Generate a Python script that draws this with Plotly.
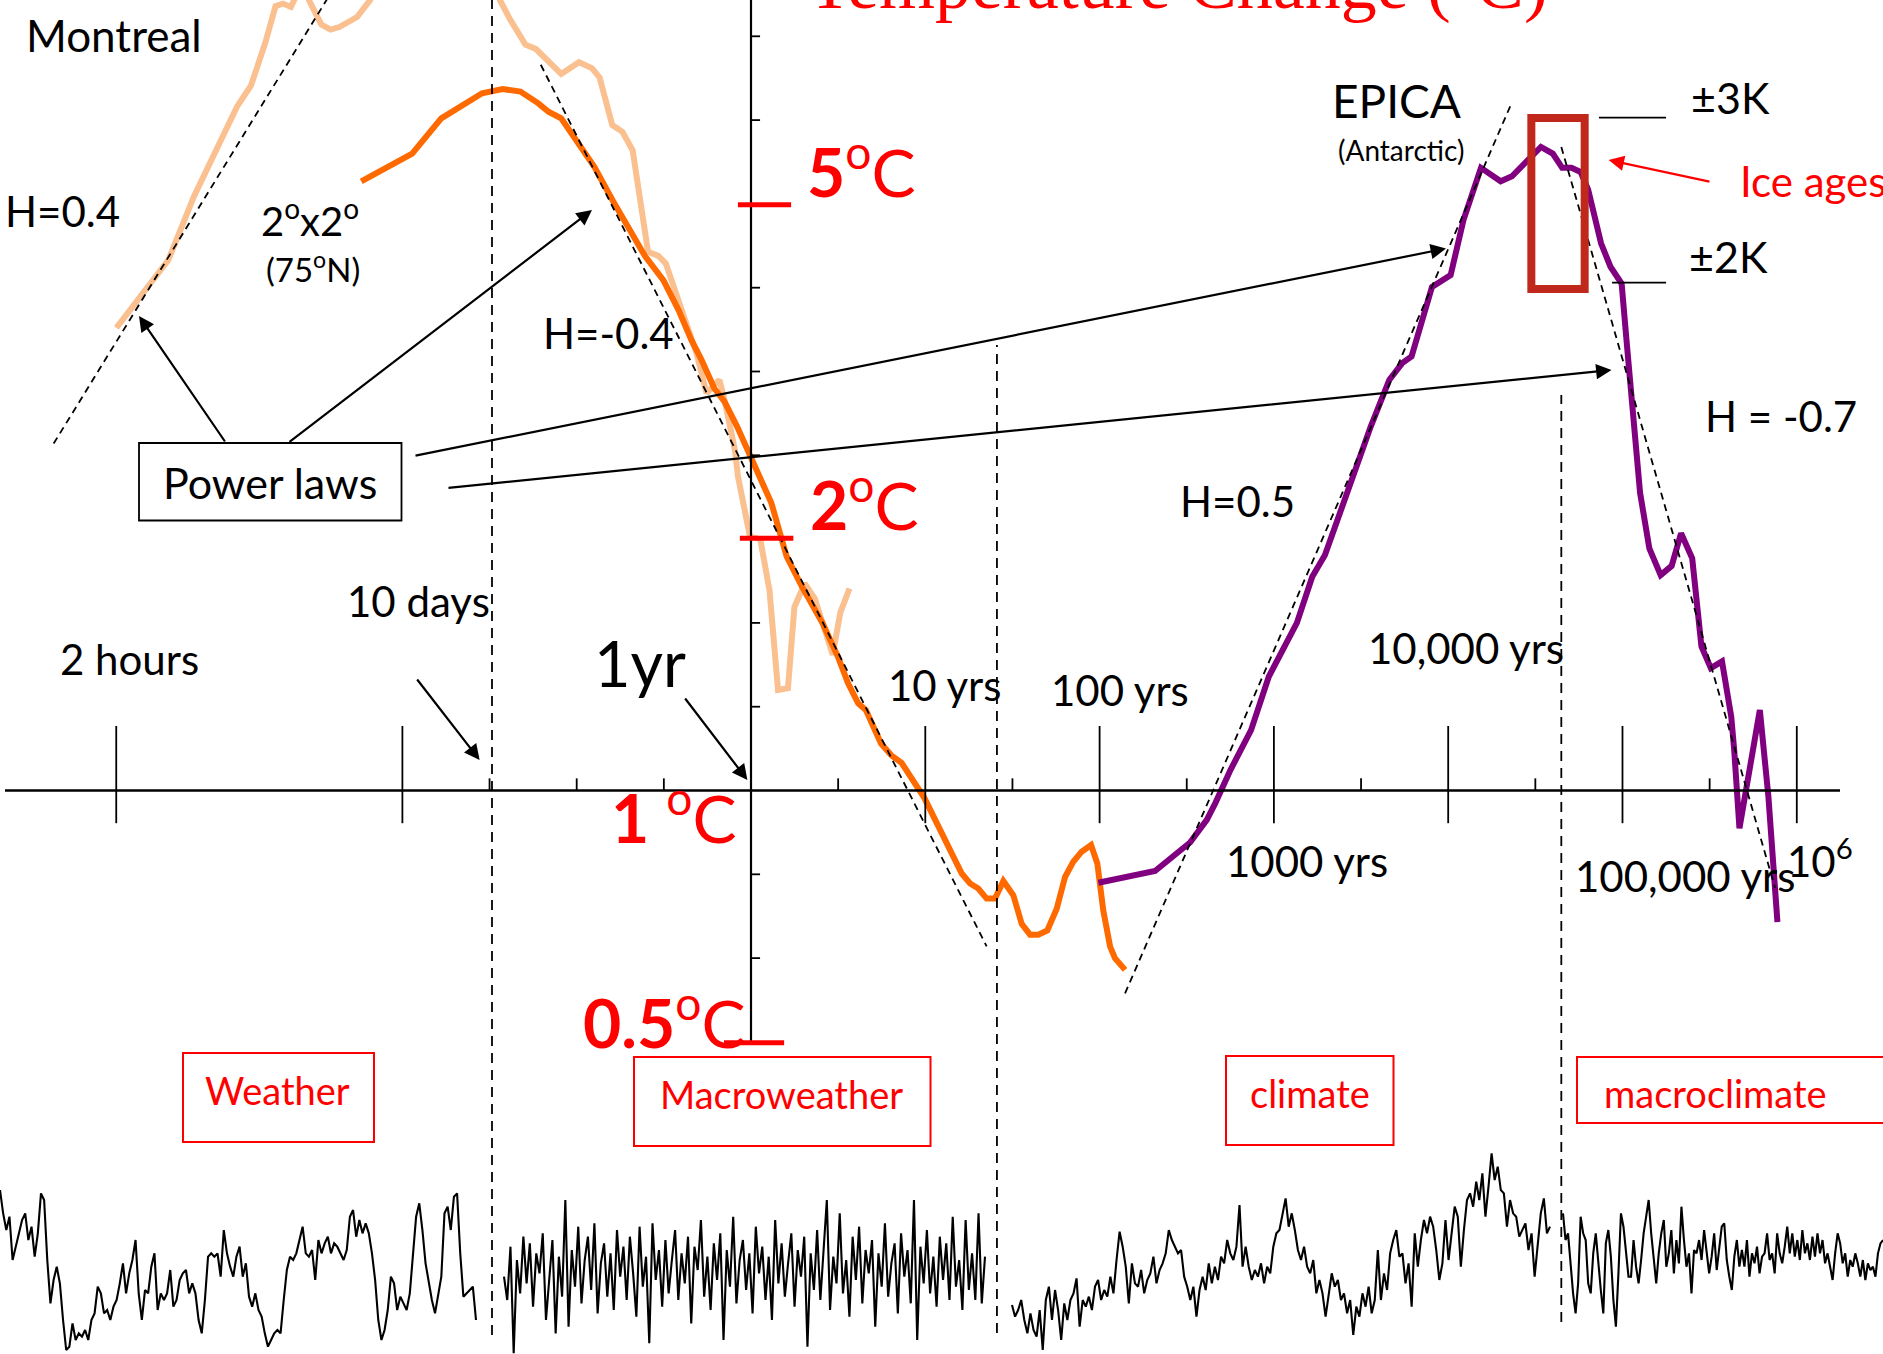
import numpy as np
import plotly.graph_objects as go

W, H = 1883, 1354

# ======================= DATA =======================
# Haar-fluctuation curves.
# log10(time scale, years) and log10(temperature fluctuation, degC)
montreal_log_dt = [-3.641, -3.343, -3.196, -3.035, -2.949, -2.869, -2.787, -2.728, -2.685, -2.640,
                   -2.588, -2.565, -2.536, -2.465, -2.412, -2.362, -2.260, -2.186, -2.129, -1.842,
                   -1.497, -1.440, -1.382, -1.294, -1.235, -1.089, -0.987, -0.913, -0.869, -0.796,
                   -0.738, -0.679, -0.591, -0.532, -0.489, -0.415, -0.313, -0.255, -0.181, -0.152,
                   -0.092, -0.075, -0.006, 0.053, 0.106, 0.155, 0.212, 0.249, 0.308, 0.366,
                   0.425, 0.469, 0.512, 0.565]
montreal_log_dT = [0.552, 0.633, 0.709, 0.780, 0.816, 0.841, 0.892, 0.936, 0.939, 0.935,
                   0.955, 0.967, 0.943, 0.914, 0.908, 0.911, 0.923, 0.943, 0.979, 1.015,
                   0.979, 0.943, 0.920, 0.890, 0.885, 0.855, 0.869, 0.862, 0.851, 0.794,
                   0.786, 0.764, 0.643, 0.638, 0.629, 0.585, 0.522, 0.474, 0.490, 0.466,
                   0.406, 0.375, 0.303, 0.300, 0.239, 0.120, 0.122, 0.219, 0.247, 0.229,
                   0.192, 0.162, 0.212, 0.241]

grid75N_log_dt = [-2.236, -1.944, -1.777, -1.543, -1.425, -1.323, -1.220, -1.162, -1.089, -1.001,
                  -0.898, -0.796, -0.679, -0.606, -0.503, -0.415, -0.343, -0.284, -0.211, -0.152,
                  -0.079, -0.021, 0.117, 0.205, 0.293, 0.410, 0.498, 0.557, 0.615, 0.659,
                  0.746, 0.805, 0.864, 0.995, 1.083, 1.161, 1.209, 1.257, 1.304, 1.352,
                  1.400, 1.448, 1.505, 1.553, 1.601, 1.648, 1.700, 1.754, 1.802, 1.849,
                  1.897, 1.951, 1.987, 2.021, 2.060, 2.088, 2.146]
grid75N_log_dT = [0.727, 0.760, 0.802, 0.832, 0.837, 0.834, 0.820, 0.810, 0.802, 0.776,
                  0.744, 0.705, 0.665, 0.637, 0.609, 0.573, 0.538, 0.514, 0.480, 0.464,
                  0.434, 0.406, 0.343, 0.279, 0.243, 0.200, 0.160, 0.128, 0.104, 0.096,
                  0.056, 0.042, 0.033, -0.009, -0.045, -0.079, -0.099, -0.111, -0.117, -0.129,
                  -0.129, -0.108, -0.125, -0.159, -0.172, -0.172, -0.167, -0.141, -0.103, -0.085,
                  -0.073, -0.065, -0.087, -0.143, -0.186, -0.200, -0.214]

epica_log_dt = [1.993, 2.318, 2.519, 2.615, 2.664, 2.752, 2.869, 2.971, 3.132, 3.220,
                3.293, 3.381, 3.440, 3.501, 3.555, 3.662, 3.736, 3.790, 3.907, 4.014,
                4.088, 4.188, 4.301, 4.366, 4.532, 4.600, 4.654, 4.707, 4.760, 4.803,
                4.877, 4.931, 4.995, 5.026, 5.048, 5.080, 5.101, 5.154, 5.219, 5.282,
                5.336, 5.400, 5.453, 5.507, 5.571, 5.624, 5.641, 5.671, 5.788, 5.837, 5.889]
epica_log_dT = [-0.110, -0.096, -0.062, -0.035, -0.015, 0.025, 0.072, 0.136, 0.200, 0.255,
                0.281, 0.333, 0.367, 0.406, 0.434, 0.490, 0.510, 0.518, 0.601, 0.615,
                0.681, 0.743, 0.727, 0.733, 0.768, 0.760, 0.743, 0.743, 0.738, 0.717,
                0.653, 0.625, 0.605, 0.530, 0.482, 0.406, 0.355, 0.289, 0.257, 0.268,
                0.307, 0.277, 0.172, 0.146, 0.154, 0.088, 0.048, -0.045, 0.096, -0.007, -0.157]

# Power-law fits (end points, log10 units)
fit_names = ["H=0.4", "H=-0.4", "H=0.5", "H=-0.7"]
fit_log_dt = [[-4.001, -2.300], [-1.206, 1.352], [2.146, 4.359], [4.649, 5.875]]
fit_log_dT = [[0.414, 0.989], [0.866, -0.186], [-0.242, 0.818], [0.768, -0.116]]

# Time axis (log10 years)
time_major_log = [np.log10(2 / 8766), -2, 1, 2, 3, 4, 5, 6]
time_minor_log = [-1.5, -1, -0.5, 0.5, 1.5, 2.5, 3.5, 4.5, 5.5]
regime_bounds_log = [-1.486, 1.411, 4.649]          # 10 days, ~25 yrs, ~45 kyrs
# Temperature axis (log10 degC)
temp_minor_log = [-0.2, -0.1, 0.1, 0.2, 0.4, 0.5, 0.6, 0.8, 0.9]
temp_red_values = [5, 2, 0.5]
ice_age_levels = [0.803, 0.606]                      # +-3K, +-2K

# Example series (anomalies, arbitrary units) for the four regimes
weather_series = [2.3, 1.6, 1.1, 1.5, 0.2, 0.6, 1.0, 1.4, 1.6, 0.8, 1.2, 0.3, 1.0, 2.2, 2.0, 0.2, -1.1, -0.4,
                  0.0, -0.5, -1.6, -2.5, -2.4, -1.7, -2.2, -2.0, -2.1, -1.9, -2.2, -1.6, -1.4, -0.6, -0.8,
                  -1.4, -1.3, -1.6, -1.2, -1.0, -0.5, 0.1, -0.8, -0.2, 0.2, 0.8, -0.8, -1.6, -0.7, -0.8,
                  0.0, 0.4, -1.3, -0.8, -1.0, -0.8, -0.1, -1.2, -1.0, -0.4, -0.2, -0.1, -0.8, -0.5, -0.8,
                  -1.6, -2.0, -1.0, 0.3, 0.4, 0.3, 0.4, -0.3, 1.1, 0.4, 0.0, -0.3, 0.3, 0.6, -0.3, 0.1,
                  -0.9, -1.2, -0.8, -1.3, -1.5, -2.0, -2.4, -2.2, -2.0, -1.9, -2.0, -1.0, -0.1, 0.3, 0.2,
                  0.4, 0.8, 1.2, 0.4, 0.3, 0.5, -0.4, 0.8, 0.4, 0.7, 0.9, 0.4, 0.7, 0.6, 0.4, 0.2, 0.5,
                  1.5, 1.7, 0.9, 1.4, 1.0, 1.3, 1.0, 0.4, -0.4, -1.6, -2.2, -1.9, -1.3, -0.3, -0.5, -1.3,
                  -0.9, -1.1, -1.3, -0.8, 0.5, 1.5, 1.9, 1.1, 0.1, -0.5, -1.0, -1.4, -0.8, -0.3, 1.6, 1.8,
                  1.1, 2.1, 2.2, 0.4, -0.9, -0.8, -0.7, -0.6, -1.6]
macroweather_series = [-0.3, -1.0, 0.6, -2.6, 0.2, -0.8, 0.9, -0.5, 0.7, -1.2, 0.4, -0.2, 1.0, -1.6, -0.4,
                       0.8, -2.0, 0.3, -0.9, 2.0, -1.8, 0.5, -0.6, 1.2, -1.1, 0.2, 0.9, -0.7, 1.3, -1.4,
                       0.1, 0.7, -0.9, 0.4, -1.3, 1.1, -0.3, 0.6, -1.0, 0.9, -0.2, -1.5, 1.2, -0.6, 0.3,
                       -2.3, 1.3, -0.4, 0.5, -1.2, 0.8, -0.8, 0.2, 1.1, -1.0, 0.4, -0.5, 0.9, -1.7, 0.6,
                       -0.1, 1.4, -0.9, 0.3, -1.3, 0.7, -0.4, 1.0, -2.2, 0.5, -0.6, 1.5, -1.1, 0.2, 0.8,
                       -0.7, 0.4, -1.4, 1.2, -0.2, 0.6, -1.0, 0.3, -1.6, 1.4, -0.5, 0.7, -0.9, 0.1, 1.0,
                       -1.2, 0.5, -0.3, 0.9, -2.4, 0.4, -0.7, 1.1, -1.0, 0.6, 2.0, -1.3, 0.3, -0.5, 1.6,
                       -0.8, 0.2, -1.5, 0.9, -0.4, 1.2, -1.1, 0.5, -0.2, 0.8, -1.8, 0.4, -0.6, 1.3, -0.9,
                       0.1, 0.7, -1.4, 1.0, -0.3, 0.5, -1.1, 2.0, -2.2, 0.6, -0.5, 1.1, -0.8, 0.3, -1.2,
                       0.9, -0.4, 0.7, -1.0, 1.5, -0.6, 0.2, -1.3, 1.4, -0.7, 0.4, -1.0, 1.6, -1.1, 0.3]
climate_series = [-1.15, -1.5, -1.3, -1.0, -1.6, -2.0, -1.4, -1.9, -2.1, -1.3, -2.5, -1.0, -0.6, -1.6, -0.7,
                  -1.3, -2.2, -1.1, -1.6, -1.0, -0.8, -0.35, -1.8, -1.0, -1.2, -0.9, -1.3, -0.6, -0.4, -1.0,
                  -0.7, -0.9, -0.3, -0.8, 0.2, 1.05, 0.6, 0.0, -1.1, 0.1, -0.5, -0.6, -0.1, -0.8, -0.4,
                  -0.2, 0.3, -0.5, -0.1, 0.1, 0.4, 1.1, 0.8, 0.6, 0.4, 0.5, -0.3, -0.6, -1.0, -0.6, -1.5,
                  -0.7, -0.3, -0.7, 0.1, -0.5, 0.0, -0.4, 0.3, 0.1, 0.8, 0.4, 0.2, 0.6, 1.85, 0.0, 0.6,
                  0.0, -0.4, -0.1, -0.3, 0.1, -0.5, 0.0, -0.2, 0.6, 1.0, 1.1, 1.6, 2.05, 1.2, 1.6, 1.1,
                  0.5, 0.2, 0.6, 0.0, -0.2, 0.2, -0.8, -0.4, -0.8, -1.5, -0.8, -0.2, -0.6, -0.4, -1.0,
                  -0.8, -1.4, -1.0, -2.05, -1.2, -1.5, -0.8, -1.2, -0.6, -1.4, -1.0, 0.5, -1.0, -0.2,
                  -0.7, 0.4, 0.8, 1.1, 0.3, 0.4, -0.5, 0.1, -1.2, 1.0, 0.0, 0.8, 1.4, 1.0, 1.5, 1.2, 0.5,
                  -0.4, 0.1, 1.4, 0.2, 1.0, 1.8, 1.5, 0.0, 1.1, 2.0, 2.2, 1.8, 2.55, 2.0, 2.8, 1.5, 2.4,
                  3.4, 2.6, 3.0, 2.3, 2.2, 1.2, 2.0, 1.6, 1.5, 0.9, 1.1, 1.3, 0.5, 1.0, -0.3, 0.7, 1.6,
                  2.05, 1.0, 1.2]
macroclimate_series = [1.6, 0.8, 1.0, 0.0, -0.8, -1.4, -0.5, 1.5, 1.0, 0.8, -0.5, -0.8, 0.4, 1.0, 0.1, -0.7,
                       -1.4, 0.7, 1.1, 0.3, -1.0, -1.8, -0.2, 1.6, 1.2, 0.4, -0.3, -0.3, 0.8, 0.0, -0.5, 0.2,
                       1.0, 1.5, 2.0, 1.0, 0.2, -0.5, 0.4, 1.0, 1.4, 0.0, 0.4, 1.1, -0.2, 0.8, 0.1, 1.8, 0.8,
                       0.0, 0.4, -0.8, 0.5, 0.4, 0.8, 0.2, 1.1, 0.4, -0.2, 0.3, 1.0, -0.1, 0.6, 1.2, 1.3, 0.2,
                       -0.3, -0.7, 0.3, 0.8, 0.0, 0.5, 0.0, 0.8, -0.3, 0.4, 0.1, 0.6, -0.2, 0.3, 0.4, 1.0, 0.2,
                       0.4, -0.2, 1.0, 0.4, 0.1, 0.6, 1.2, 0.4, 1.0, 0.3, 0.8, 0.2, 1.1, 0.4, 0.7, 0.2, 0.9,
                       0.3, 1.0, 0.4, 0.8, 0.1, 0.4, 0.0, -0.4, 0.4, 1.0, 0.7, 0.1, 0.4, -0.3, 0.2, 0.0, 0.4,
                       0.1, -0.3, 0.2, -0.4, 0.1, -0.1, 0.0, -0.3, 0.4, 0.7, 0.8]

# ======================= LAYOUT HELPERS =======================
def px(x):
    return x / W


def py(y):
    return 1 - y / H


BLACK = "black"
RED = "#FF0000"
FONT = "Lato"

fig = go.Figure()

# ---- bottom example series (own axes) ----
segments = [(weather_series, 0, 476), (macroweather_series, 504, 985),
            (climate_series, 1012, 1550), (macroclimate_series, 1563, 1883)]
for vals, x0, x1 in segments:
    fig.add_trace(go.Scatter(x=np.linspace(x0, x1, len(vals)), y=vals, mode="lines",
                             line=dict(color=BLACK, width=2.1), xaxis="x2", yaxis="y2",
                             hoverinfo="skip", showlegend=False))

# ---- main curves ----
fig.add_trace(go.Scatter(x=montreal_log_dt, y=montreal_log_dT, mode="lines", name="Montreal",
                         line=dict(color="#FAC090", width=6)))
fig.add_trace(go.Scatter(x=grid75N_log_dt, y=grid75N_log_dT, mode="lines", name="2x2 (75N)",
                         line=dict(color="#FF6A00", width=6)))
fig.add_trace(go.Scatter(x=epica_log_dt, y=epica_log_dT, mode="lines", name="EPICA",
                         line=dict(color="#800080", width=6)))
for name, xs, ys in zip(fit_names, fit_log_dt, fit_log_dT):
    fig.add_trace(go.Scatter(x=xs, y=ys, mode="lines", name=name,
                             line=dict(color=BLACK, width=1.8, dash="7px,5px")))

shapes = []
# horizontal time axis
shapes.append(dict(type="line", xref="x", yref="y", x0=-4.28, x1=6.248, y0=0, y1=0,
                   line=dict(color=BLACK, width=2.5)))
for t in time_major_log:
    shapes.append(dict(type="line", xref="x", yref="y", x0=t, x1=t, y0=-0.039, y1=0.077,
                       line=dict(color=BLACK, width=1.8)))
for t in time_minor_log:
    shapes.append(dict(type="line", xref="x", yref="y", x0=t, x1=t, y0=0, y1=0.0145,
                       line=dict(color=BLACK, width=1.8)))
# vertical temperature axis at 1 yr
shapes.append(dict(type="line", xref="x", yref="y", x0=0, x1=0, y0=-0.301, y1=0.96,
                   line=dict(color=BLACK, width=2.2)))
for v in temp_minor_log:
    shapes.append(dict(type="line", xref="x", yref="y", x0=0, x1=0.052, y0=v, y1=v,
                       line=dict(color=BLACK, width=1.8)))
red_tick_span = {5: (-0.075, 0.230), 2: (-0.064, 0.243), 0.5: (-0.155, 0.190)}
for v in temp_red_values:
    a, b = red_tick_span[v]
    shapes.append(dict(type="line", xref="x", yref="y", x0=a, x1=b, y0=np.log10(v), y1=np.log10(v),
                       line=dict(color=RED, width=5)))
# regime boundaries
bound_y = [(0, 1335), (345, 1333), (395, 1322)]
for t, (ya, yb) in zip(regime_bounds_log, bound_y):
    shapes.append(dict(type="line", xref="x", yref="paper", x0=t, x1=t, y0=py(yb), y1=py(ya),
                       line=dict(color=BLACK, width=1.8, dash="10px,7px")))
# +-3K / +-2K markers
shapes.append(dict(type="line", xref="x", yref="y", x0=4.865, x1=5.250, y0=ice_age_levels[0],
                   y1=ice_age_levels[0], line=dict(color=BLACK, width=1.6)))
shapes.append(dict(type="line", xref="x", yref="y", x0=4.940, x1=5.250, y0=ice_age_levels[1],
                   y1=ice_age_levels[1], line=dict(color=BLACK, width=1.6)))
# ice-age box
shapes.append(dict(type="rect", xref="x", yref="y", x0=4.477, x1=4.783, y0=0.5985, y1=0.8025,
                   line=dict(color="#C0281C", width=8)))
# Power laws box
shapes.append(dict(type="rect", xref="paper", yref="paper", x0=px(139), x1=px(401.5),
                   y0=py(520.5), y1=py(443), line=dict(color=BLACK, width=1.8), fillcolor="white"))
# regime boxes
for (xa, ya, xb, yb) in [(183, 1053, 374, 1142), (634, 1057, 930.5, 1146),
                         (1226, 1056, 1393.5, 1145), (1577, 1057, 1895, 1123)]:
    shapes.append(dict(type="rect", xref="paper", yref="paper", x0=px(xa), x1=px(xb),
                       y0=py(yb), y1=py(ya), line=dict(color=RED, width=2)))

ann = []


def lab(text, cx, cy, size, color=BLACK, xanchor="center", family=FONT):
    ann.append(dict(text=text, x=px(cx), y=py(cy), xref="paper", yref="paper", showarrow=False,
                    xanchor=xanchor, yanchor="middle", font=dict(family=family, size=size, color=color)))


def arrow(tail, head, color=BLACK, width=2.2):
    ann.append(dict(text="", x=px(head[0]), y=py(head[1]), xref="paper", yref="paper",
                    ax=tail[0] - head[0], ay=tail[1] - head[1], axref="pixel", ayref="pixel",
                    showarrow=True, arrowhead=2, arrowsize=1.4, arrowwidth=width,
                    arrowcolor=color, standoff=0, startstandoff=0))


lab("Montreal", 114, 35, 44)
lab("H=0.4", 62, 211, 42)
lab("2<sup>o</sup>x2<sup>o</sup>", 310, 218, 40)
lab("(75<sup>o</sup>N)", 313, 267, 33)
lab("H=-0.4", 608, 333, 42)
lab("Power laws", 270, 483, 43)
lab("10 days", 418, 601, 42)
lab("2 hours", 129, 659, 42)
lab("1yr", 640, 663, 63)
lab("<b>1</b> <sup>o</sup>C", 673, 813, 66, RED)
lab("<b>5</b><sup>o</sup>C", 861, 167, 66, RED)
lab("<b>2</b><sup>o</sup>C", 864, 500, 66, RED)
lab("<b>0.5</b><sup>o</sup>C", 664, 1018, 66, RED)
lab("10 yrs", 945, 685, 42)
lab("100 yrs", 1120, 690, 42)
lab("1000 yrs", 1307, 861, 42)
lab("10,000 yrs", 1466, 648, 42)
lab("100,000 yrs", 1685, 876, 42)
lab("10<sup>6</sup>", 1820, 858, 42)
lab("H=0.5", 1237, 501, 42)
lab("EPICA", 1396, 100, 46)
lab("(Antarctic)", 1401, 150, 28)
lab("\u00b13K", 1730, 97, 43)
lab("\u00b12K", 1728, 256, 43)
lab("Ice ages", 1738, 181, 42, RED, xanchor="left")
lab("H = -0.7", 1781, 416, 42)
lab("Weather", 277, 1090, 38, RED)
lab("Macroweather", 781, 1094, 38, RED)
lab("climate", 1310, 1093, 38, RED)
lab("macroclimate", 1715, 1093, 38, RED)
ann.append(dict(text="Temperature Change (<sup>o</sup>C)", x=px(806), y=py(26), xref="paper", yref="paper",
                showarrow=False, xanchor="left", yanchor="bottom",
                font=dict(family="Liberation Serif", size=72, color=RED)))

arrow((226, 443), (139, 316))
arrow((288, 443), (592, 210))
arrow((414, 456), (1446, 248.5))
arrow((447, 488), (1611.5, 370))
arrow((416, 678), (479.6, 760))
arrow((684, 697), (747.4, 780))
arrow((1711, 182), (1608.6, 160), color=RED)

fig.update_layout(
    width=W, height=H, margin=dict(l=0, r=0, t=0, b=0),
    paper_bgcolor="white", plot_bgcolor="rgba(0,0,0,0)", showlegend=False,
    xaxis=dict(range=[-4.3087, 6.4946], domain=[0, 1], visible=False, fixedrange=True),
    yaxis=dict(range=[-0.6724, 0.9433], domain=[0, 1], visible=False, fixedrange=True),
    xaxis2=dict(range=[0, W], domain=[0, 1], anchor="y2", visible=False),
    yaxis2=dict(range=[-2.62, 3.88], domain=[0, 0.16], anchor="x2", visible=False),
    shapes=shapes, annotations=ann,
)

fig.write_html("out.html", config={"displayModeBar": False})
